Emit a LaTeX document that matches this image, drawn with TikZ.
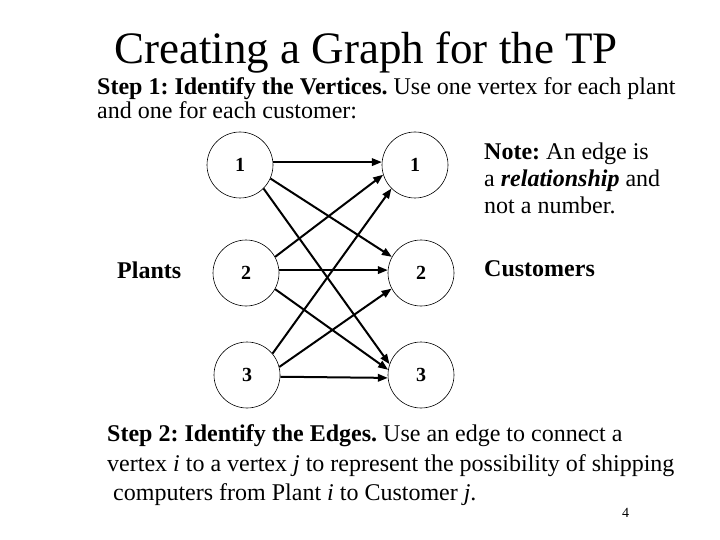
\documentclass[tikz,border=0pt]{standalone}
\usepackage{fontspec}
\setmainfont{Liberation Serif}
\usetikzlibrary{arrows.meta}
\frenchspacing
\tikzset{
  vtx/.style={circle,draw,line width=0.6pt,minimum size=66pt,inner sep=0pt,font=\fontsize{20}{20}\selectfont\bfseries},
  edgearrow/.style={line width=2pt,-{Triangle[length=10pt,width=7.5pt]}},
  txt/.style={anchor=base west,inner sep=0pt,font=\fontsize{24}{24}\selectfont},
}
\begin{document}
\begin{tikzpicture}[x=1pt,y=-1pt]
\useasboundingbox (0,0) rectangle (720,540);
\node[anchor=base west,inner sep=0pt,font=\fontsize{45}{45}\selectfont] (title) at (114,64) {Creating a Graph for the TP};
\node[txt] (s1a) at (97,95) {\textbf{Step 1: Identify the Vertices.} Use one vertex for each plant};
\node[txt] (s1b) at (97,119) {and one for each customer:};
% vertices
\node[vtx] (l1) at (240,165) {1};
\node[vtx] (l2) at (246,273) {2};
\node[vtx] (l3) at (247,375) {3};
\node[vtx] (r1) at (415,165) {1};
\node[vtx] (r2) at (421,273) {2};
\node[vtx] (r3) at (421,375) {3};
\node[txt,font=\fontsize{24}{24}\selectfont\bfseries] (plants) at (117,278) {Plants};
\node[txt,font=\fontsize{24}{24}\selectfont\bfseries] (cust) at (484,276) {Customers};
\node[txt] (n1) at (484,160) {\textbf{Note:} An edge is};
\node[txt] (n2) at (484,187) {a \textbf{\textit{relationship}} and};
\node[txt] (n3) at (484,214) {not a number.};
% edges
\draw[edgearrow] (l1.5) -- (r1.175);
\draw[edgearrow] (l1.-24) -- (r2.151);
\draw[edgearrow] (l1.-45) -- (r3.161);
\draw[edgearrow] (l2.29) -- (r1.197);
\draw[edgearrow] (l2.5) -- (r2.175);
\draw[edgearrow] (l2.-29) -- (r3.171);
\draw[edgearrow] (l3.40) -- (r1.225);
\draw[edgearrow] (l3.14) -- (r2.208);
\draw[edgearrow] (l3.-3) -- (r3.185);
% step 2
\node[txt] (s2a) at (107,441) {\textbf{Step 2: Identify the Edges.} Use an edge to connect a};
\node[txt] (s2b) at (107,471) {vertex \textit{i} to a vertex \textit{j} to represent the possibility of shipping};
\node[txt] (s2c) at (113,500) {computers from Plant \textit{i} to Customer \textit{j}.};
\node[anchor=base west,inner sep=0pt,font=\fontsize{14}{14}\selectfont] (pg) at (622,517) {4};
\end{tikzpicture}
\end{document}
